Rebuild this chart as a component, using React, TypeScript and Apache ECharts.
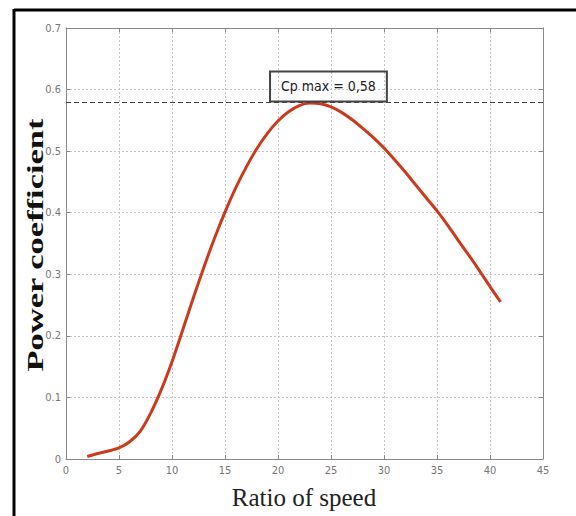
import React, { useEffect, useRef } from "react";
import * as echarts from "echarts";

const speedRatio = [2, 3, 4, 5, 6, 7, 8, 9, 10, 11, 12, 13, 14, 15, 16, 17, 18, 19, 20, 21, 22, 23, 24, 25, 26, 27, 28, 29, 30, 31, 32, 33, 34, 35, 36, 37, 38, 39, 40, 41];
const powerCoeff = [0.004, 0.009, 0.013, 0.018, 0.028, 0.045, 0.075, 0.113, 0.158, 0.209, 0.261, 0.311, 0.358, 0.401, 0.44, 0.474, 0.504, 0.529, 0.549, 0.564, 0.574, 0.578, 0.577, 0.572, 0.563, 0.551, 0.537, 0.522, 0.505, 0.486, 0.466, 0.445, 0.424, 0.403, 0.38, 0.355, 0.331, 0.306, 0.28, 0.255];
const cpMax = 0.58;
const cpMaxLabel = "Cp max = 0,58";
const labelAnchor = [24.76, 0.605];
const xTitle = "Ratio of speed";
const yTitle = "Power coefficient";

export default function App() {
  const ref = useRef<HTMLDivElement>(null);
  useEffect(() => {
    if (!ref.current) return;
    const chart = echarts.init(ref.current, null, { renderer: "svg" });
    const tickFont = {
      color: "#777",
      fontSize: 11,
      fontFamily: "'Liberation Sans Narrow', 'DejaVu Sans Condensed', 'Roboto', sans-serif",
    };
    const splitLine = { show: true, lineStyle: { color: "#c4c4c4", type: [2, 2] as any, width: 1 } };
    chart.setOption({
      animation: false,
      backgroundColor: "#ffffff",
      grid: { left: 66, right: 33, top: 28, bottom: 57, show: false },
      xAxis: [
        {
          type: "value",
          min: 0,
          max: 45,
          interval: 5,
          axisLine: { show: true, lineStyle: { color: "#888", width: 1 } },
          axisTick: { show: true, inside: true, length: 4, lineStyle: { color: "#888" } },
          axisLabel: { ...tickFont, margin: 6 },
          splitLine,
        },
        {
          type: "value",
          position: "top",
          min: 0,
          max: 45,
          interval: 5,
          axisLine: { show: true, onZero: false, lineStyle: { color: "#888", width: 1 } },
          axisTick: { show: true, inside: true, length: 4, lineStyle: { color: "#888" } },
          axisLabel: { show: false },
          splitLine: { show: false },
        },
      ],
      yAxis: [
        {
          type: "value",
          min: 0,
          max: 0.7,
          interval: 0.1,
          axisLine: { show: true, lineStyle: { color: "#888", width: 1 } },
          axisTick: { show: true, inside: true, length: 4, lineStyle: { color: "#888" } },
          axisLabel: { ...tickFont, margin: 5 },
          splitLine,
        },
        {
          type: "value",
          position: "right",
          min: 0,
          max: 0.7,
          interval: 0.1,
          axisLine: { show: true, onZero: false, lineStyle: { color: "#888", width: 1 } },
          axisTick: { show: true, inside: true, length: 4, lineStyle: { color: "#888" } },
          axisLabel: { show: false },
          splitLine: { show: false },
        },
      ],
      series: [
        {
          type: "line",
          data: speedRatio.map((x, i) => [x, powerCoeff[i]]),
          smooth: 0.3,
          symbol: "none",
          lineStyle: { color: "#cc3a1e", width: 3 },
          markLine: {
            silent: true,
            symbol: "none",
            label: { show: false },
            lineStyle: { color: "#444", type: [5, 3] as any, width: 1 },
            data: [{ yAxis: cpMax }],
          },
          markPoint: {
            silent: true,
            symbol: "rect",
            symbolSize: 1,
            itemStyle: { color: "rgba(0,0,0,0)" },
            label: {
              show: true,
              position: "inside",
              formatter: cpMaxLabel,
              color: "#222",
              fontSize: 14,
              fontFamily: "'Liberation Sans Narrow', 'DejaVu Sans Condensed', 'Roboto', sans-serif",
              borderColor: "#444",
              borderWidth: 1,
              padding: [8, 11],
              backgroundColor: "rgba(255,255,255,0)",
            },
            data: [{ coord: labelAnchor, value: cpMax }],
          },
        },
      ],
      graphic: [
        {
          type: "line",
          shape: { x1: 14, y1: 10, x2: 576, y2: 10 },
          style: { stroke: "#000", lineWidth: 3 },
        },
        {
          type: "line",
          shape: { x1: 14, y1: 9, x2: 14, y2: 516 },
          style: { stroke: "#000", lineWidth: 3 },
        },
        {
          type: "text",
          x: 35,
          y: 245,
          rotation: Math.PI / 2,
          scaleX: 1.5,
          style: {
            text: yTitle,
            align: "center",
            verticalAlign: "middle",
            font: "bold 23px 'Liberation Serif', 'DejaVu Serif', serif",
            fill: "#111",
          },
        },
        {
          type: "text",
          x: 304,
          y: 497,
          style: {
            text: xTitle,
            align: "center",
            verticalAlign: "middle",
            font: "25px 'Liberation Serif', 'DejaVu Serif', serif",
            fill: "#222",
          },
        },
      ],
    });
    return () => chart.dispose();
  }, []);
  return (
    <div
      ref={ref}
      style={{ position: "fixed", left: 0, top: 0, width: 576, height: 516, background: "#fff" }}
    />
  );
}
